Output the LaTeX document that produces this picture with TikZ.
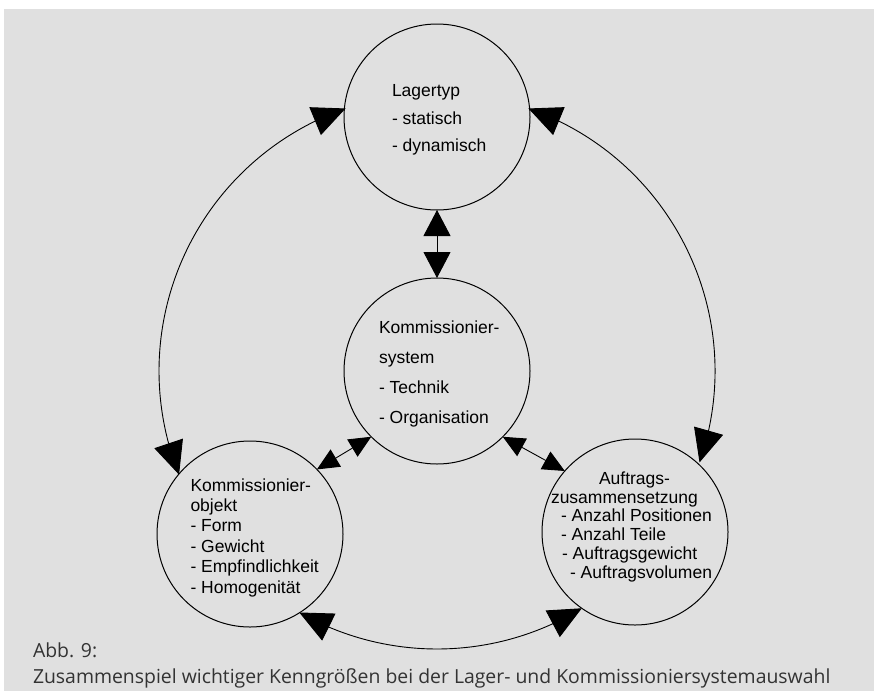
\documentclass[tikz,border=0pt]{standalone}
\usepackage{fontspec}
\setmainfont{Liberation Sans}
\newfontfamily\capfont{Open Sans}
\usetikzlibrary{arrows.meta,bending,calc}
\definecolor{bggray}{RGB}{224,224,224}
\definecolor{captxt}{RGB}{51,51,51}
\begin{document}
\begin{tikzpicture}[x=1pt,y=1pt,
  ring/.style={circle,draw,line width=1pt,minimum size=186pt,inner sep=0pt,outer sep=0pt},
  conn/.style={line width=0.9pt},
  bigtips/.style={conn,<->,>={Triangle[length=33pt,width=30pt]}},
  midtips/.style={conn,<->,>={Triangle[length=26pt,width=27pt]}},
  smalltips/.style={conn,<->,>={Triangle[length=22pt,width=20pt]}},
  txt/.style={anchor=base west,inner sep=0pt,outer sep=0pt},
  captext/.style={anchor=base west,inner sep=0pt,outer sep=0pt,text=captxt,font=\capfont\fontsize{19.4}{24}\selectfont}]
\useasboundingbox (0,0) rectangle (874,-691);
\fill[bggray] (4,-9) rectangle (874,-691);

% circles
\node[ring] (top) at (437,-117) {};
\node[ring] (mid) at (437,-371) {};
\node[ring] (left) at (250,-534) {};
\node[ring] (right) at (635,-532) {};

% texts
\node[txt] (ttop) at (392,-96.7) {\fontsize{17.5}{27.5}\selectfont\begin{tabular}[t]{@{}l@{}}Lagertyp\\- statisch\\- dynamisch\end{tabular}};
\node[txt] (tmid) at (379,-333) {\fontsize{17.5}{30.3}\selectfont\begin{tabular}[t]{@{}l@{}}Kommissionier-\\system\\- Technik\\- Organisation\end{tabular}};
\node[txt] (tleft) at (190.5,-491) {\fontsize{17.5}{20.4}\selectfont\begin{tabular}[t]{@{}l@{}}Kommissionier-\\objekt\\- Form\\- Gewicht\\- Empfindlichkeit\\- Homogenität\end{tabular}};
\node[txt] (tright) at (551,-484.3) {\fontsize{17.5}{18.8}\selectfont\begin{tabular}[t]{@{}l@{}}\hspace*{48pt}Auftrags-\\zusammensetzung\\\hspace*{10pt}- Anzahl Positionen\\\hspace*{10pt}- Anzahl Teile\\\hspace*{11pt}- Auftragsgewicht\\\hspace*{19pt}- Auftragsvolumen\end{tabular}};

% straight connectors
\draw[midtips] (top.south) -- (mid.north);
\draw[smalltips] (mid.225.9) -- (left.44.6);
\draw[smalltips] (mid.315.4) -- (right.139.7);

% big arcs
\coordinate (aL) at ($(mid.center)+(109.2:278pt)$);
\draw[bigtips] (aL) arc[start angle=109.2,end angle=201.9,radius=278pt];
\coordinate (aR) at ($(mid.center)+(70.8:278pt)$);
\draw[bigtips] (aR) arc[start angle=70.8,end angle=-19.2,radius=278pt];
\coordinate (aB) at ($(mid.center)+(240.3:278pt)$);
\draw[bigtips] (aB) arc[start angle=240.3,end angle=301.4,radius=278pt];

% caption
\node[captext] (cap1) at (33,-657) {Abb. 9:};
\node[captext] (cap2) at (33,-683) {Zusammenspiel wichtiger Kenngrößen bei der Lager- und Kommissioniersystemauswahl};
\end{tikzpicture}
\end{document}
